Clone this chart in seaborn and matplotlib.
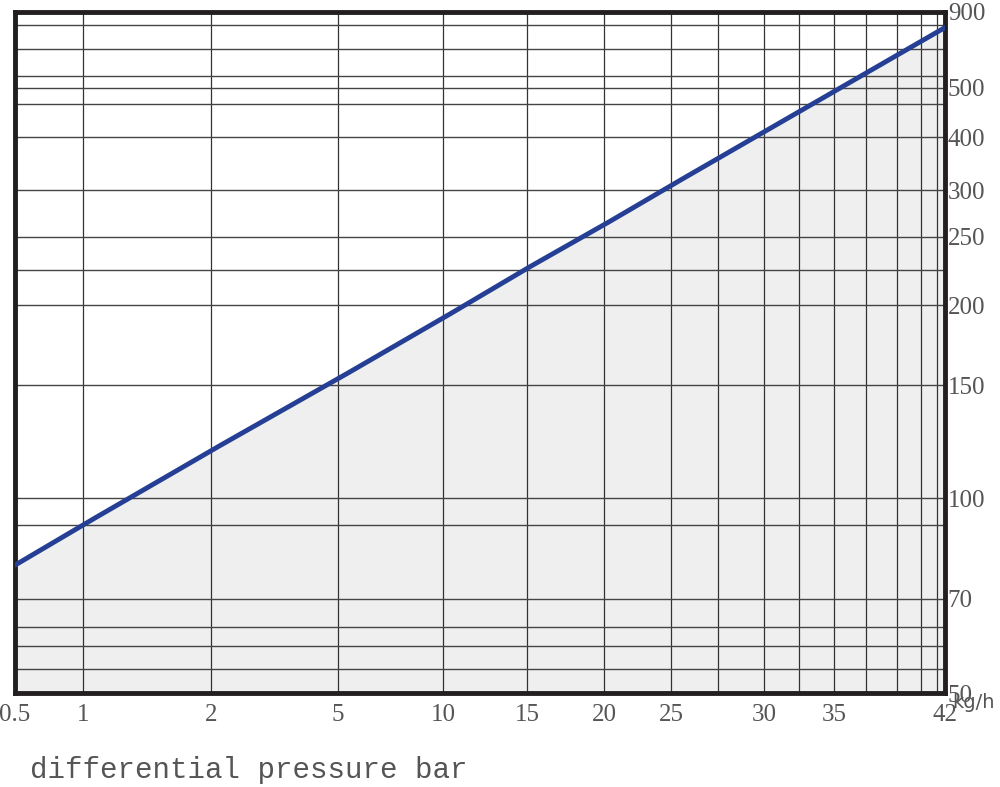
import numpy as np
import pandas as pd
import seaborn as sns
import matplotlib.pyplot as plt
from matplotlib.scale import FuncScale

# curve values
pressure = [0.5, 1, 2, 5, 10, 15, 20, 25, 30, 35, 42]
flow = [80, 92, 121, 154, 192, 227, 263, 309, 411, 492, 818]
df = pd.DataFrame({"pressure": pressure, "flow": flow})

# axis ticks and grid
x_ticks = [0.5, 1, 2, 5, 10, 15, 20, 25, 30, 35, 42]
x_tick_labels = ["0.5", "1", "2", "5", "10", "15", "20", "25", "30", "35", "42"]
x_minor = [27.5, 32.5, 37, 39, 40.5, 41.5]
y_ticks = [50, 70, 100, 150, 200, 250, 300, 400, 500, 900]
y_grid = [55, 60, 64, 92, 226, 467, 560, 703, 829]

# the chart's own (non-uniform) axis scale, as relative positions of the ticks
x_frac = (np.array([15, 83, 211, 338, 443, 527, 604, 671, 764, 834, 945]) - 15) / 930
y_frac = (693 - np.array([672, 581, 484, 375, 298, 232, 187, 136, 88, 15])) / 681

def fx(v):
    return np.interp(v, x_ticks, x_frac)

def ix(f):
    return np.interp(f, x_frac, x_ticks)

def fy(v):
    return np.interp(v, y_ticks, y_frac)

def iy(f):
    return np.interp(f, y_frac, y_ticks)

sns.set_style("white")
fig = plt.figure(figsize=(10, 7.87), dpi=100)
ax = fig.add_axes([15 / 1000, 1 - 693 / 787, 930 / 1000, 681 / 787])
ax.set_xscale(FuncScale(ax, (fx, ix)))
ax.set_yscale(FuncScale(ax, (fy, iy)))

# dense points so the segments stay straight in the chart's scale
xs = np.linspace(0, 1, 400)
dense = pd.DataFrame({"pressure": ix(xs)})
dense["flow"] = iy(np.interp(xs, fx(np.array(pressure)), fy(np.array(flow))))

ax.fill_between(dense["pressure"], 1, dense["flow"], color="#efefef", zorder=0)
for v in x_ticks[1:-1] + x_minor:
    ax.axvline(v, color="#333333", lw=0.9, zorder=1)
for v in y_ticks[1:-1] + y_grid:
    ax.axhline(v, color="#444444", lw=1.0, zorder=1)
sns.lineplot(data=dense, x="pressure", y="flow", color="#243f94", lw=3.5, ax=ax, zorder=3)

ax.set_xlim(0.5, 42)
ax.set_ylim(iy(0.0), iy(1.0))
ax.set_xticks(x_ticks)
ax.set_xticklabels(x_tick_labels, family="Liberation Serif", fontsize=18, color="#555555")
ax.set_xticks([], minor=True)
ax.set_yticks(y_ticks)
ax.set_yticklabels([str(v) for v in y_ticks], family="Liberation Serif", fontsize=18, color="#555555")
ax.set_yticks([], minor=True)
ax.yaxis.tick_right()
ax.tick_params(axis="x", length=0, pad=8)
ax.tick_params(axis="y", length=0, pad=2)
ax.set_xlabel("")
ax.set_ylabel("")
for s in ax.spines.values():
    s.set_color("#231f20")
    s.set_linewidth(3.5)

fig.text(0.952, 1 - 703 / 787, "kg/h", fontsize=14, color="#555555", va="center")
fig.text(0.03, 1 - 770 / 787, "differential pressure bar", family="Liberation Mono",
         fontsize=21, color="#555555", va="center")

fig.savefig("out.png", dpi=100)
